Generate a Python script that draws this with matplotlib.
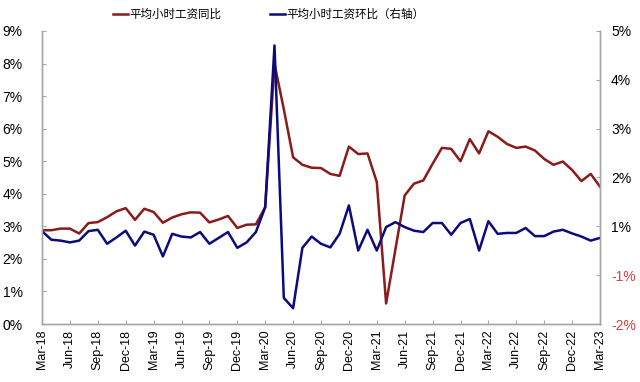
import matplotlib
matplotlib.use("Agg")
import matplotlib.pyplot as plt
import numpy as np
import pandas as pd

plt.rcParams['font.family'] = ['Liberation Sans', 'Noto Sans CJK SC', 'DejaVu Sans']

months = pd.date_range('2018-03-01', '2023-03-01', freq='MS')
month_labels = [d.strftime('%b-%y') for d in months]

yoy = [2.88, 2.88, 2.93, 2.93, 2.78, 3.10, 3.13, 3.28, 3.46, 3.56,
       3.20, 3.54, 3.44, 3.11, 3.27, 3.37, 3.43, 3.42, 3.12, 3.21,
       3.32, 2.95, 3.05, 3.06, 3.59, 7.99, 6.60, 5.12, 4.89, 4.80,
       4.79, 4.61, 4.55, 5.45, 5.22, 5.24, 4.36, 0.63, 2.29, 3.95,
       4.31, 4.41, 4.92, 5.41, 5.38, 5.00, 5.68, 5.24, 5.92, 5.75,
       5.53, 5.41, 5.45, 5.33, 5.07, 4.89, 4.99, 4.73, 4.39, 4.61,
       4.22]

mom = [0.56, 0.37, 0.35, 0.31, 0.35, 0.56, 0.59, 0.28, 0.42, 0.57,
       0.24, 0.55, 0.48, 0.00, 0.50, 0.44, 0.42, 0.54, 0.28, 0.41,
       0.54, 0.19, 0.31, 0.54, 1.09, 4.68, -0.92, -1.15, 0.19, 0.44,
       0.28, 0.20, 0.50, 1.13, 0.13, 0.59, 0.13, 0.65, 0.76, 0.65,
       0.57, 0.54, 0.74, 0.74, 0.48, 0.74, 0.83, 0.13, 0.78, 0.50,
       0.52, 0.52, 0.63, 0.45, 0.45, 0.55, 0.59, 0.51, 0.44, 0.35,
       0.41]

left_ticks = list(range(0, 10))
left_tick_labels = [f'{v}%' for v in left_ticks]
right_tick_labels = ['-2%', '-1%', '1%', '2%', '3%', '4%', '5%']

legend_labels = ['平均小时工资同比', '平均小时工资环比（右轴）']

red = '#8B1A1A'
blue = '#0B0B7E'
grey = '#A6A6A6'

fig = plt.figure(figsize=(6.4, 3.82), dpi=100)
ax = fig.add_axes([42/640, 1-324/382, (600-42)/640, (324-31)/382])
ax2 = ax.twinx()

x = np.arange(len(months))
l1, = ax.plot(x, yoy, color=red, lw=1.8, label=legend_labels[0])
l2, = ax2.plot(x, mom, color=blue, lw=1.8, label=legend_labels[1])

ax.set_xlim(0, len(months)-1)
ax.set_ylim(0, 9)
ax.set_yticks(left_ticks)
ax.set_yticklabels(left_tick_labels, fontsize=10)

ax2.set_ylim(-1.5, 5)
rt = np.linspace(-1.5, 5, 7)
ax2.set_yticks(rt)
ax2.set_yticklabels(right_tick_labels, fontsize=10)
for lab, txt in zip(ax2.get_yticklabels(), right_tick_labels):
    if txt.startswith('-'):
        lab.set_color('#E03C3C')

ax.set_xticks(x[::3])
ax.set_xticklabels(month_labels[::3], rotation=90, fontsize=9)

for a in (ax, ax2):
    a.spines['top'].set_visible(False)
    for s in ('left', 'right', 'bottom'):
        a.spines[s].set_color(grey)
        a.spines[s].set_linewidth(1.0)
    a.tick_params(direction='in', length=3, color=grey, width=0.8)
ax.tick_params(axis='y', pad=14)
ax2.tick_params(axis='y', pad=8)
ax.tick_params(axis='x', pad=4)

leg = fig.legend([l1, l2], legend_labels, loc='center', bbox_to_anchor=(0.42, 0.962),
                 ncol=2, frameon=False, handlelength=1.3,
                 handletextpad=0.1, columnspacing=4.2,
                 prop={'family': ['Noto Sans CJK SC', 'DejaVu Sans'], 'size': 8.3})

fig.savefig('out.png', dpi=100)
